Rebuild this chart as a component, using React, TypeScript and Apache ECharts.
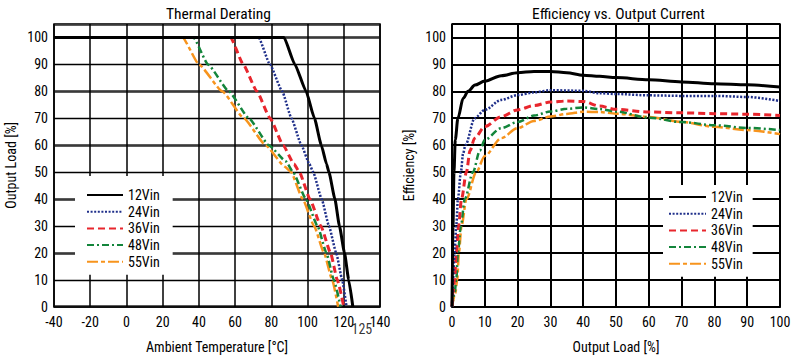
import React, { useEffect, useRef } from "react";
import * as echarts from "echarts";

const FONT = "'Liberation Sans Narrow', 'Arial Narrow', 'Roboto Condensed', 'DejaVu Sans Condensed', sans-serif";

const seriesNames = ["12Vin", "24Vin", "36Vin", "48Vin", "55Vin"];

// Thermal derating: [ambient °C, output load %]
const thermal12 = [[-40, 100], [87, 100], [93, 90], [99.2, 80], [103.8, 70], [107.6, 60], [110.5, 53], [111.8, 50], [115.1, 40], [117.6, 30], [120.4, 20], [122.7, 10], [125, 0]];
const thermal24 = [[-40, 100], [73, 100], [79.2, 90], [86, 80], [91.1, 70], [96.6, 60], [101, 53], [103.1, 50], [107.8, 40], [111.8, 30], [115.8, 20], [119.1, 10], [121.5, 0]];
const thermal36 = [[-40, 100], [57.5, 100], [64.5, 90], [72, 80], [79.3, 70], [86.5, 60], [92.5, 53], [95.5, 50], [101.3, 40], [107.3, 30], [112.7, 20], [116.4, 10], [120, 0]];
const thermal48 = [[-40, 100], [37, 100], [45, 90], [56.5, 80], [67.6, 70], [78.6, 60], [88, 54], [92, 50], [99.1, 40], [105.5, 30], [110.4, 20], [114.5, 10], [118.2, 0]];
const thermal55 = [[-40, 100], [31, 100], [40, 90], [52.9, 80], [64.8, 70], [76.8, 60], [87.5, 52], [90.9, 50], [97.3, 40], [103.6, 30], [109.1, 20], [113.6, 10], [116.9, 0]];

// Efficiency: [output load %, efficiency %]
const eff12 = [[0, 0], [0.3, 30], [0.6, 50], [1, 62], [1.8, 70], [3.4, 77.4], [4.9, 80], [7, 82.3], [10, 83.8], [15, 85.8], [20, 86.9], [25, 87.4], [30, 87.4], [35, 86.9], [40, 86], [45, 85.6], [50, 85.1], [60, 84.3], [70, 83.5], [80, 82.8], [90, 82.4], [100, 81.6]];
const eff24 = [[0, 0], [0.3, 10], [0.8, 20], [1.3, 30], [1.8, 40], [2.7, 50], [3.4, 57], [4.1, 60], [6.9, 70], [10, 73.1], [15, 76.8], [20, 78.6], [25, 79.6], [30, 80.4], [40, 80.2], [45, 79.3], [50, 79], [60, 78.5], [70, 78.3], [80, 78.3], [90, 77.9], [100, 76.4]];
const eff36 = [[0, 0], [0.3, 5], [0.8, 10], [1.3, 20], [2, 30], [2.9, 40], [4.4, 50], [5.5, 58], [6.9, 62.6], [10, 66.9], [15, 70.6], [20, 73.1], [25, 74.7], [30, 76], [35, 76.4], [40, 76.2], [45, 74.5], [50, 73.3], [60, 72.3], [70, 72], [80, 71.7], [90, 71.5], [100, 71]];
const eff48 = [[0, 0], [0.8, 5], [1.3, 10], [1.8, 20], [2.7, 30], [3.9, 40], [6.4, 50], [8.5, 58], [10, 62], [15, 66.3], [20, 68.6], [25, 71], [30, 72.5], [35, 73.5], [40, 74], [45, 73.4], [50, 72.5], [60, 70.2], [70, 68.6], [80, 67.4], [90, 66.4], [100, 65.6]];
const eff55 = [[0, 0], [1, 5], [1.6, 10], [2.1, 20], [2.9, 30], [4.4, 40], [7.4, 50], [10, 56], [15, 62.6], [20, 66.3], [25, 69], [30, 70.6], [35, 71.6], [40, 72.4], [45, 72.3], [50, 71.7], [60, 70.5], [70, 68.6], [80, 66.8], [90, 65.6], [100, 64.1]];

const tempTicks = { min: -40, max: 140, interval: 20 };
const loadTicks = { min: 0, max: 100, interval: 10 };
const yTicks = { min: 0, max: 105, interval: 10 };
const markedTemp = [[125, 0]];

const lineStyles = [
  { color: "#000000", width: 3, type: "solid" },
  { color: "#1f2f8a", width: 2.5, type: [2, 1.6] },
  { color: "#e8262d", width: 3, type: [7, 4] },
  { color: "#13853b", width: 2.5, type: [7, 3, 2, 3] },
  { color: "#f7941d", width: 2.5, type: [11, 3, 4, 3] },
];

export default function App() {
  const ref = useRef<HTMLDivElement>(null);
  useEffect(() => {
    if (!ref.current) return;
    const chart = echarts.init(ref.current, null, { renderer: "svg" });
    const thermal = [thermal12, thermal24, thermal36, thermal48, thermal55];
    const eff = [eff12, eff24, eff36, eff48, eff55];
    const txt = { fontFamily: FONT, fontSize: 14, color: "#000" };

    const series: any[] = [];
    seriesNames.forEach((n, i) => {
      series.push({
        name: n, type: "line", xAxisIndex: 0, yAxisIndex: 0, data: thermal[i],
        symbol: "none", smooth: 0.15, smoothMonotone: "x",
        itemStyle: { color: lineStyles[i].color },
        lineStyle: { ...lineStyles[i], cap: "butt" }, z: 10 - i,
      });
    });
    seriesNames.forEach((n, i) => {
      series.push({
        name: n, type: "line", xAxisIndex: 1, yAxisIndex: 2, data: eff[i],
        symbol: "none", smooth: 0.3, smoothMonotone: "x",
        itemStyle: { color: lineStyles[i].color },
        lineStyle: { ...lineStyles[i], cap: "butt" }, z: 10 - i,
      });
    });
    series.push({
      type: "scatter", xAxisIndex: 0, yAxisIndex: 0, data: markedTemp,
      symbolSize: 0, silent: true, clip: false,
      label: { show: true, formatter: "125", position: "bottom", distance: 0, offset: [9, 15], ...txt },
    });

    const legendBase = {
      orient: "vertical",
      data: seriesNames,
      selectedMode: false,
      backgroundColor: "#fff",
      itemWidth: 36,
      itemHeight: 14,
      itemGap: 2.7,
      itemTextGap: 7,
      itemStyle: { opacity: 0, color: "rgba(0,0,0,0)", borderWidth: 0 },
      textStyle: { ...txt },
    };

    chart.setOption({
      animation: false,
      title: [
        { text: "Thermal Derating", left: 166, top: 6, padding: 0, textStyle: { ...txt, fontSize: 15.5, fontWeight: "normal" } },
        { text: "Efficiency vs. Output Current", left: 532, top: 6, padding: 0, textStyle: { ...txt, fontSize: 15.5, fontWeight: "normal" } },
      ],
      legend: [
        { ...legendBase, left: 75, top: 176, padding: [12, 13, 6, 11] },
        { ...legendBase, left: 663, top: 185, padding: [5, 10, 6, 5], itemWidth: 37, itemTextGap: 8 },
      ],
      grid: [
        { left: 54, right: 420, top: 24, bottom: 52.3, outerBoundsMode: "none", containLabel: false, show: true, borderColor: "#000", borderWidth: 1.5 },
        { left: 452, right: 20, top: 24, bottom: 52.3, outerBoundsMode: "none", containLabel: false, show: true, borderColor: "#000", borderWidth: 1.5 },
      ],
      xAxis: [
        {
          type: "value", gridIndex: 0, ...tempTicks,
          name: "Ambient Temperature [°C]", nameLocation: "middle", nameGap: 33, nameTextStyle: { ...txt },
          axisLine: { lineStyle: { color: "#000", width: 1.5 } }, axisTick: { show: false },
          axisLabel: { ...txt, margin: 8 },
          splitLine: { lineStyle: { color: "#000", width: 1.5 } },
        },
        {
          type: "value", gridIndex: 1, ...loadTicks,
          name: "Output Load [%]", nameLocation: "middle", nameGap: 33, nameTextStyle: { ...txt },
          axisLine: { lineStyle: { color: "#000", width: 2 } }, axisTick: { show: false },
          axisLabel: { ...txt, margin: 8 },
          splitLine: { lineStyle: { color: "#000", width: 2 } },
        },
      ],
      yAxis: [
        {
          type: "value", gridIndex: 0, ...yTicks,
          name: "Output Load [%]", nameLocation: "middle", nameGap: 36, nameTextStyle: { ...txt },
          axisLine: { show: false }, axisTick: { show: false },
          axisLabel: { ...txt, margin: 6, formatter: (v: number) => (v > 100 ? "" : String(v)) },
          splitLine: { lineStyle: { color: "#000", width: 1.3 } },
        },
        {
          type: "value", gridIndex: 0, min: 0, max: 105, interval: 20, position: "left",
          axisLine: { show: false }, axisTick: { show: false }, axisLabel: { show: false },
          splitLine: { lineStyle: { color: "#3a3a3a", width: 2.6 } },
        },
        {
          type: "value", gridIndex: 1, ...yTicks,
          name: "Efficiency [%]", nameLocation: "middle", nameGap: 36, nameTextStyle: { ...txt },
          axisLine: { show: false }, axisTick: { show: false },
          axisLabel: { ...txt, margin: 6, formatter: (v: number) => (v > 100 ? "" : String(v)) },
          splitLine: { lineStyle: { color: "#000", width: 2 } },
        },
      ],
      series,
    });
    return () => chart.dispose();
  }, []);
  return <div ref={ref} style={{ position: "fixed", left: 0, top: 0, width: 800, height: 359, background: "#fff" }} />;
}
